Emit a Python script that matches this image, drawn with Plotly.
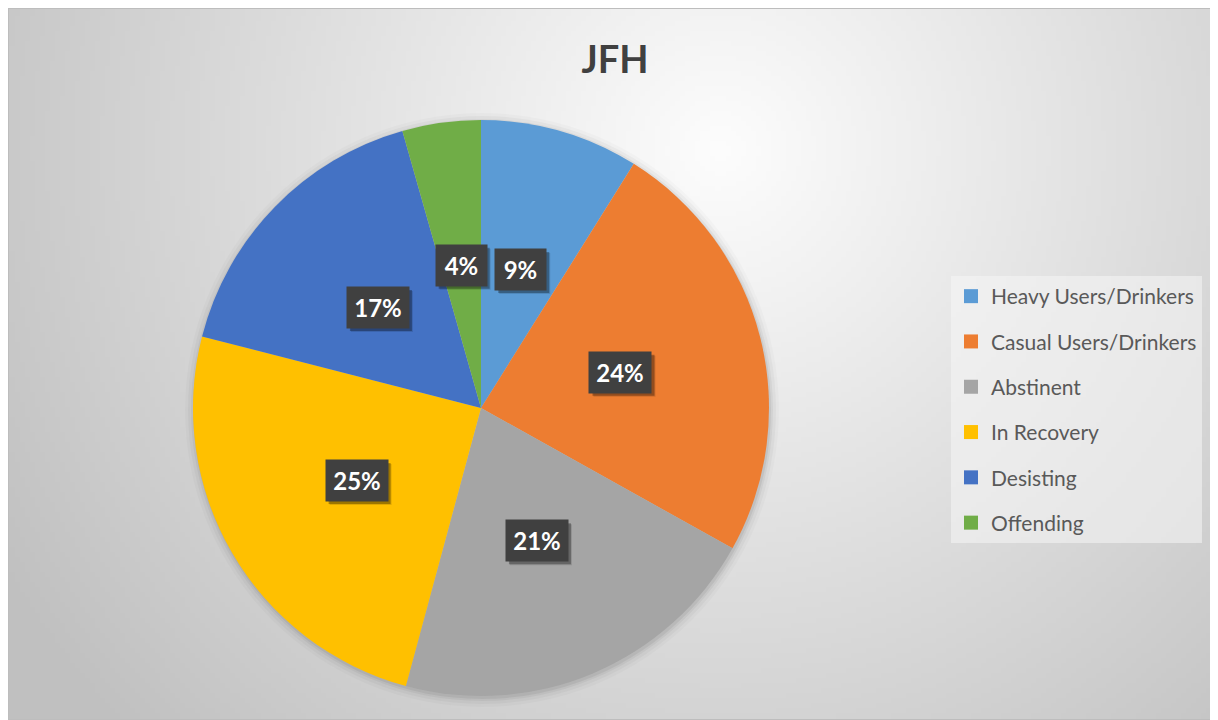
import base64, struct, zlib, math
import numpy as np
import plotly.graph_objects as go

# ---- data ----
categories = ["Heavy Users/Drinkers", "Casual Users/Drinkers", "Abstinent",
              "In Recovery", "Desisting", "Offending"]
values = [8.9, 24.2, 21.1, 24.8, 16.6, 4.4]
colors = ["#5B9BD5", "#ED7D31", "#A5A5A5", "#FFC000", "#4472C4", "#70AD47"]
title_text = "JFH"

OFF = 8                      # page body margin
W, H = 1218 - OFF, 720 - OFF

# ---- background gradient as inline PNG ----
def make_png(arr):
    h, w = arr.shape
    raw = b"".join(b"\x00" + arr[r].astype(np.uint8).tobytes() for r in range(h))
    def chunk(tag, data):
        c = struct.pack(">I", len(data)) + tag + data
        return c + struct.pack(">I", zlib.crc32(tag + data) & 0xffffffff)
    png = b"\x89PNG\r\n\x1a\n"
    png += chunk(b"IHDR", struct.pack(">IIBBBBB", w, h, 8, 0, 0, 0, 0))
    png += chunk(b"IDAT", zlib.compress(raw, 9))
    png += chunk(b"IEND", b"")
    return "data:image/png;base64," + base64.b64encode(png).decode()

gw, gh = 242, 142
xs = OFF + (np.arange(gw) + 0.5) * W / gw
ys = OFF + (np.arange(gh) + 0.5) * H / gh
X, Y = np.meshgrid(xs, ys)
d = np.sqrt((X - 720) ** 2 + (Y - 150) ** 2)
g = np.clip(253 - 58 * (d / 800), 192, 253)
bg_src = make_png(g)

# ---- pie geometry (figure pixels) ----
cx_px, cy_px, R = 481 - OFF, 408 - OFF, 288
dom_x = [(cx_px - R) / W, (cx_px + R) / W]
dom_y = [1 - (cy_px + R) / H, 1 - (cy_px - R) / H]
cxp = (dom_x[0] + dom_x[1]) / 2
cyp = (dom_y[0] + dom_y[1]) / 2
rx = R / W
ry = R / H

fig = go.Figure()
fig.add_trace(go.Pie(
    labels=categories, values=values, sort=False, direction="clockwise",
    rotation=0, marker=dict(colors=colors, line=dict(width=0)),
    textinfo="none", hoverinfo="label+percent", showlegend=False,
    domain=dict(x=dom_x, y=dom_y),
))

# legend entries
for c, col in zip(categories, colors):
    fig.add_trace(go.Scatter(
        x=[None], y=[None], mode="markers", name=c, legendgroup=c,
        marker=dict(symbol="square", size=14, color=col),
    ))

# soft shadow around pie
shapes = []
for k, a in [(9, 0.02), (6, 0.03), (3, 0.045), (1, 0.06)]:
    shapes.append(dict(type="circle", xref="paper", yref="paper", layer="below",
                       x0=cxp - (R + k) / W + 1 / W, x1=cxp + (R + k) / W + 1 / W,
                       y0=cyp - (R + k) / H - 2 / H, y1=cyp + (R + k) / H - 2 / H,
                       fillcolor=f"rgba(0,0,0,{a})", line=dict(width=0)))
# chart border
shapes.append(dict(type="rect", xref="paper", yref="paper", layer="above",
                   x0=0, x1=1, y0=0, y1=1,
                   line=dict(color="#bdbdbd", width=2), fillcolor="rgba(0,0,0,0)"))

# data labels
total = sum(values)
annotations = []
cum = 0.0
PAD, BH = 6, 29
for v in values:
    mid = (cum + v / 2) / total * 2 * math.pi
    cum += v
    ax = cxp + 0.5 * rx * math.sin(mid)
    ay = cyp + 0.5 * ry * math.cos(mid)
    label = f"{round(v / total * 100)}%"
    bw = 39 if len(label) <= 2 else 50
    hw, hh = bw / 2 + PAD, BH / 2 + PAD
    for sx, sy, a in [(4, 4, 0.12), (3, 3, 0.3)]:
        shapes.append(dict(type="rect", xref="paper", yref="paper", layer="above",
                           x0=ax + (sx - hw) / W, x1=ax + (sx + hw) / W,
                           y0=ay - (sy + hh) / H, y1=ay - (sy - hh) / H,
                           fillcolor=f"rgba(0,0,0,{a})", line=dict(width=0)))
    annotations.append(dict(x=ax, y=ay, xref="paper", yref="paper",
                            xanchor="center", yanchor="middle",
                            text=f"<b>{label}</b>", showarrow=False,
                            width=bw, height=BH, align="center", valign="middle",
                            font=dict(family="Lato", size=24, color="white"),
                            bgcolor="#404040", borderpad=PAD))

fig.update_layout(
    width=W, height=H,
    margin=dict(l=0, r=0, t=0, b=0),
    paper_bgcolor="#d8d8d8", plot_bgcolor="rgba(0,0,0,0)",
    title=dict(text=f"<b>{title_text}</b>", x=(615 - OFF) / W, y=1 - (60 - OFF) / H,
               xanchor="center", yanchor="middle",
               font=dict(family="Lato", size=38, color="#404040")),
    xaxis=dict(visible=False), yaxis=dict(visible=False),
    legend=dict(x=(951 - OFF) / W, y=1 - (276 - OFF) / H, xanchor="left", yanchor="top",
                bgcolor="rgba(246,246,246,0.55)", traceorder="grouped",
                tracegroupgap=15, font=dict(family="Lato", size=21, color="#595959"),
                itemclick=False, itemdoubleclick=False),
    images=[dict(source=bg_src, xref="paper", yref="paper", x=0, y=1,
                 sizex=1, sizey=1, xanchor="left", yanchor="top",
                 sizing="stretch", layer="below")],
    shapes=shapes,
    annotations=annotations,
)

fig.write_html("out.html")
